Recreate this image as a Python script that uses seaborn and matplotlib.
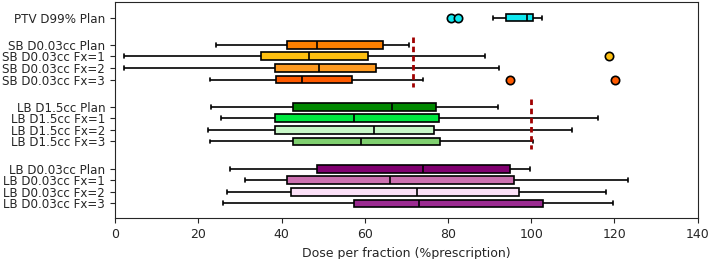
import matplotlib
matplotlib.use("Agg")
import matplotlib.pyplot as plt
import seaborn as sns
import numpy as np
import pandas as pd

# Rótulos das estruturas (de cima para baixo)
labels = ["PTV D99% Plan",
          "SB D0.03cc Plan", "SB D0.03cc Fx=1", "SB D0.03cc Fx=2", "SB D0.03cc Fx=3",
          "LB D1.5cc Plan", "LB D1.5cc Fx=1", "LB D1.5cc Fx=2", "LB D1.5cc Fx=3",
          "LB D0.03cc Plan", "LB D0.03cc Fx=1", "LB D0.03cc Fx=2", "LB D0.03cc Fx=3"]

# Estatísticas (% prescrição)
whisker_lo = [90.7, 24.2, 2.2, 2.2, 22.9, 23.1, 25.5, 22.3, 22.8, 27.6, 31.2, 26.8, 25.9]
q1 = [94.0, 41.4, 35.0, 38.4, 38.6, 42.8, 38.4, 38.4, 42.8, 48.6, 41.4, 42.2, 57.5]
median = [99.0, 48.5, 46.5, 49.0, 44.9, 66.5, 57.4, 62.2, 59.2, 74.1, 66.1, 72.5, 73.0]
q3 = [100.4, 64.4, 60.9, 62.8, 57.0, 77.2, 77.9, 76.6, 78.2, 94.8, 95.9, 97.1, 102.8]
whisker_hi = [102.6, 70.6, 88.8, 92.3, 73.9, 91.9, 116.0, 109.8, 100.4, 99.6, 123.2, 117.9, 119.6]
outliers = [[80.7, 82.5], [], [118.6], [], [95.0, 120.2],
            [], [], [], [], [], [], [], []]

# Limites de dose
sb_limit = 71.5
lb_limit = 100

colors = ["#10e8f0",
          "#ff8000", "#ffc010", "#ff9a20", "#ff5a00",
          "#008800", "#00e840", "#c8f8c8", "#80d070",
          "#800070", "#cc70b0", "#fce0f8", "#9a2a90"]

# posições no eixo y (grupos separados)
gap = 2.33
positions = [0]
for g in range(3):
    start = gap + g * (3 + gap)
    positions += [start + i for i in range(4)]

sns.set_style("ticks")
plt.rcParams['font.family'] = ['DejaVu Sans']

fig, ax = plt.subplots(figsize=(7.1, 2.59), dpi=100)
fig.subplots_adjust(left=0.162, right=0.9827, top=0.992, bottom=0.157)

for i, lab in enumerate(labels):
    low_out = [o for o in outliers[i] if o < q1[i]]
    high_out = [o for o in outliers[i] if o > q3[i]]
    # amostra que reproduz os quartis e bigodes lidos
    vals = low_out + [whisker_lo[i]] + [q1[i]] * 20 + [median[i]] * 20 + [q3[i]] * 20 + [whisker_hi[i]] + high_out
    df = pd.DataFrame({"dose": vals, "pos": positions[i]})
    sns.boxplot(data=df, x="dose", y="pos", orient="h", native_scale=True,
                color=colors[i], saturation=1, width=0.68, linecolor="black",
                linewidth=1.2,
                flierprops=dict(marker="o", markerfacecolor=colors[i],
                                markeredgecolor="black", markersize=6,
                                markeredgewidth=1.2),
                ax=ax)

ax.vlines(sb_limit, positions[1] - 0.65, positions[4] + 0.65, colors="#a00000",
          linestyles=(0, (2, 1.3)), linewidth=2, zorder=5)
ax.vlines(lb_limit, positions[5] - 0.65, positions[8] + 0.65, colors="#a00000",
          linestyles=(0, (2, 1.3)), linewidth=2, zorder=5)

ax.set_yticks(positions)
ax.set_yticklabels(labels, fontsize=8.6)
ax.set_ylim(positions[-1] + 1.28, -1.33)
ax.set_xlim(0, 140)
ax.set_xticks(range(0, 141, 20))
ax.tick_params(axis="x", labelsize=9)
ax.set_xlabel("Dose per fraction (%prescription)", fontsize=9)
ax.set_ylabel("")
for s in ax.spines.values():
    s.set_visible(True)

plt.savefig("out.png", dpi=100)
